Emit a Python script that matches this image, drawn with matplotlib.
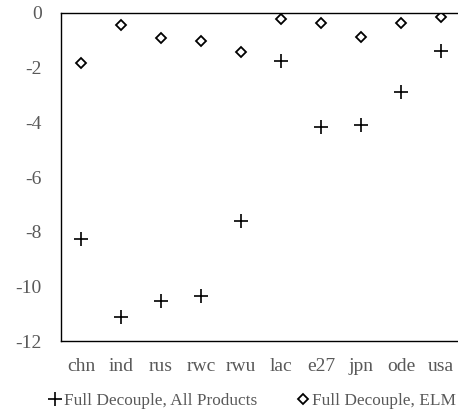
import matplotlib.pyplot as plt
import numpy as np

# regions and the two decoupling scenarios
regions = ["chn", "ind", "rus", "rwc", "rwu", "lac", "e27", "jpn", "ode", "usa"]
all_products = [-8.28, -11.10, -10.53, -10.35, -7.61, -1.76, -4.19, -4.10, -2.91, -1.40]
elm_only = [-1.85, -0.45, -0.94, -1.03, -1.45, -0.22, -0.37, -0.88, -0.39, -0.15]
yticks = [0, -2, -4, -6, -8, -10, -12]

grey = "#595959"
plt.rcParams["font.family"] = ["Liberation Serif", "DejaVu Serif"]
plt.rcParams["axes.unicode_minus"] = False

fig = plt.figure(figsize=(4.58, 4.13), dpi=100)
ax = fig.add_axes([61 / 458, 71.7 / 413, 400 / 458, 328.6 / 413])

x = np.arange(len(regions))
ax.plot(x, all_products, linestyle="none", marker="+", markersize=9.5,
        markeredgewidth=1.2, color="black", label="Full Decouple, All Products")
ax.plot(x, elm_only, linestyle="none", marker="D", markersize=5.5,
        markeredgewidth=1.3, markerfacecolor="white", markeredgecolor="black",
        label="Full Decouple, ELM")

ax.set_xlim(-0.5, len(regions) - 0.5)
ax.set_ylim(-12, 0)
ax.set_yticks(yticks)
ax.set_xticks(x)
ax.set_xticklabels(regions)
ax.tick_params(length=0, labelsize=14, colors=grey)
ax.tick_params(axis="x", pad=12)
ax.tick_params(axis="y", pad=14)

ax.spines["right"].set_visible(False)
for s in ["left", "top", "bottom"]:
    ax.spines[s].set_linewidth(1.0)

leg = ax.legend(loc="upper left", bbox_to_anchor=(-0.045, -0.137), ncol=2,
                frameon=False, fontsize=12.4, handlelength=0.6, handletextpad=0.2,
                columnspacing=2.4, borderaxespad=0)
for t in leg.get_texts():
    t.set_color(grey)

fig.savefig("out.png", dpi=100)
